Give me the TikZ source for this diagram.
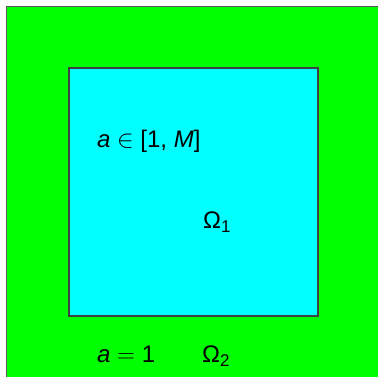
\documentclass[tikz,border=0pt]{standalone}
\usepackage{fontspec}
\setmainfont{Liberation Sans}
\newcommand{\mysub}[1]{\raisebox{-0.3ex}{\fontsize{17}{20}\selectfont #1}}
\begin{document}
\begin{tikzpicture}[x=1pt,y=1pt,
  region/.style={draw=black!75, line width=1.2pt},
  lbl/.style={anchor=base west, inner sep=0pt, font=\fontsize{24}{28}\selectfont}]
\useasboundingbox (0,0) rectangle (378,377);
\clip (0,0) rectangle (378,377);
\path[region, fill={rgb,255:red,0;green,255;blue,0}, draw=black!65] (6.5,370.5) rectangle (400,-20);
\path[region, fill={rgb,255:red,0;green,255;blue,255}] (69,309) rectangle (318,61);
\node[lbl] (t1) at (97,229) {\textit{a} $\in$ [1, \textit{M}]};
\node[lbl] (o1) at (203,148) {Ω\mysub{1}};
\node[lbl] (t2) at (97,14) {\textit{a} $=$ 1};
\node[lbl] (o2) at (202,14) {Ω\mysub{2}};
\end{tikzpicture}
\end{document}
